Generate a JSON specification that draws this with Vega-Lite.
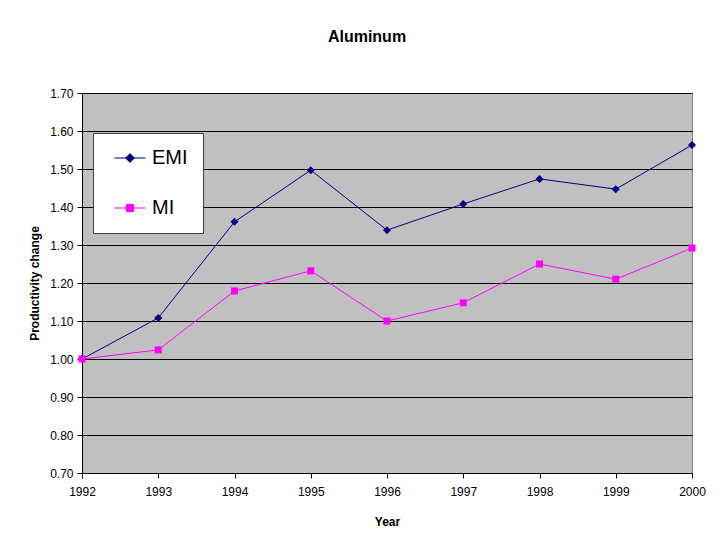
{
  "$schema": "https://vega.github.io/schema/vega-lite/v6.json",
  "width": 610,
  "height": 380,
  "autosize": "none",
  "padding": {"left": 82, "top": 93, "right": 31, "bottom": 75},
  "background": "white",
  "title": {"text": "Aluminum", "fontSize": 16, "font": "Liberation Sans", "fontWeight": "bold", "frame": "bounds", "anchor": "middle", "offset": 42, "color": "black"},
  "data": {"values": [
    {"year": 1992, "series": "EMI", "value": 1.00},
    {"year": 1993, "series": "EMI", "value": 1.108},
    {"year": 1994, "series": "EMI", "value": 1.361},
    {"year": 1995, "series": "EMI", "value": 1.497},
    {"year": 1996, "series": "EMI", "value": 1.339},
    {"year": 1997, "series": "EMI", "value": 1.408},
    {"year": 1998, "series": "EMI", "value": 1.474},
    {"year": 1999, "series": "EMI", "value": 1.447},
    {"year": 2000, "series": "EMI", "value": 1.563},
    {"year": 1992, "series": "MI", "value": 1.00},
    {"year": 1993, "series": "MI", "value": 1.024},
    {"year": 1994, "series": "MI", "value": 1.179},
    {"year": 1995, "series": "MI", "value": 1.232},
    {"year": 1996, "series": "MI", "value": 1.10},
    {"year": 1997, "series": "MI", "value": 1.148},
    {"year": 1998, "series": "MI", "value": 1.25},
    {"year": 1999, "series": "MI", "value": 1.21},
    {"year": 2000, "series": "MI", "value": 1.292}
  ]},
  "encoding": {
    "x": {"field": "year", "type": "quantitative",
      "scale": {"domain": [1992, 2000], "nice": false, "zero": false},
      "axis": {"values": [1992, 1993, 1994, 1995, 1996, 1997, 1998, 1999, 2000], "format": "d", "title": "Year", "grid": false, "labelFlush": false,
        "domainColor": "black", "tickColor": "black", "tickSize": 5, "labelPadding": 8, "labelFontSize": 12, "labelFont": "Liberation Sans", "labelColor": "black",
        "titleFont": "Liberation Sans", "titleFontSize": 12, "titleFontWeight": "bold", "titleColor": "black", "titlePadding": 19}},
    "y": {"field": "value", "type": "quantitative",
      "scale": {"domain": [0.7, 1.7], "nice": false, "zero": false},
      "axis": {"values": [0.7, 0.8, 0.9, 1.0, 1.1, 1.2, 1.3, 1.4, 1.5, 1.6, 1.7], "format": ".2f", "title": "Productivity change", "grid": true, "gridColor": "black", "gridOpacity": 1,
        "domainColor": "black", "tickColor": "black", "tickSize": 5, "labelPadding": 4, "labelFontSize": 12, "labelFont": "Liberation Sans", "labelColor": "black",
        "titleFont": "Liberation Sans", "titleFontSize": 12, "titleFontWeight": "bold", "titleColor": "black", "titlePadding": 8}},
    "color": {"field": "series", "type": "nominal",
      "scale": {"domain": ["EMI", "MI"], "range": ["#000080", "#FF00FF"]},
      "legend": {"title": null, "orient": "none", "legendX": 11, "legendY": 40, "fillColor": "white", "strokeColor": "#404040", "padding": 15, "rowPadding": 30,
        "symbolSize": 256, "symbolOffset": 12, "labelOffset": 12, "labelFontSize": 20, "labelFont": "Liberation Sans", "labelColor": "black", "symbolStrokeWidth": 1,
        "encode": {"symbols": {"update": {
          "shape": {"signal": "datum.value === 'EMI' ? 'M-1.95,0L1.95,0M0,-0.55L0.55,0L0,0.55L-0.55,0Z' : 'M-1.95,0L1.95,0M-0.45,-0.45L0.45,-0.45L0.45,0.45L-0.45,0.45Z'"},
          "fill": {"signal": "datum.value === 'EMI' ? '#000080' : '#FF00FF'"},
          "stroke": {"signal": "datum.value === 'EMI' ? '#000080' : '#FF00FF'"},
          "strokeWidth": {"value": 1},
          "size": {"value": 256},
          "opacity": {"value": 1},
          "fillOpacity": {"value": 1},
          "strokeOpacity": {"value": 1}
        }}}}}
  },
  "layer": [
    {"mark": {"type": "line", "strokeWidth": 1}},
    {"mark": {"type": "point", "filled": true, "opacity": 1,
      "shape": {"expr": "datum.series === 'EMI' ? 'diamond' : 'square'"},
      "size": {"expr": "datum.series === 'EMI' ? 64 : 49"}}}
  ],
  "config": {"view": {"fill": "#C0C0C0", "stroke": "#808080", "strokeWidth": 1}}
}
